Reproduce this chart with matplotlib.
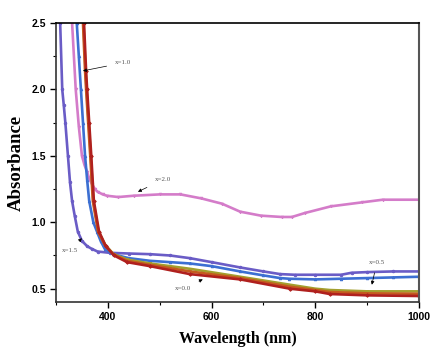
import matplotlib.pyplot as plt
from matplotlib.ticker import MultipleLocator

# Absorbance spectra, one series per composition
wl_x20 = [331, 338, 344, 350, 355, 360, 364, 369, 375, 380, 390, 398, 420, 450, 500, 540,
          580, 620, 655, 695, 735, 755, 780, 830, 890, 930, 1000]
ab_x20 = [2.5, 2.0, 1.72, 1.5, 1.43, 1.38, 1.33, 1.29, 1.25, 1.23, 1.21, 1.20, 1.19, 1.20,
          1.21, 1.21, 1.18, 1.14, 1.08, 1.05, 1.04, 1.04, 1.07, 1.12, 1.15, 1.17, 1.17]

wl_x15 = [308, 312, 315, 318, 323, 327, 331, 336, 342, 350, 360, 369, 380, 404, 440, 481,
          520, 558, 600, 655, 700, 732, 760, 800, 850, 870, 900, 950, 1000]
ab_x15 = [2.5, 2.0, 1.88, 1.75, 1.5, 1.3, 1.16, 1.05, 0.93, 0.86, 0.82, 0.80, 0.78, 0.77,
          0.765, 0.76, 0.75, 0.73, 0.70, 0.66, 0.63, 0.61, 0.605, 0.605, 0.605, 0.62, 0.625,
          0.63, 0.63]

wl_blue = [340, 344, 348, 352, 356, 360, 364, 372, 379, 386, 394, 410, 440, 481, 520, 558,
           600, 655, 700, 732, 750, 800, 850, 900, 950, 1000]
ab_blue = [2.5, 2.25, 2.0, 1.75, 1.5, 1.32, 1.16, 1.0, 0.93, 0.86, 0.80, 0.76, 0.73, 0.71,
           0.70, 0.69, 0.67, 0.63, 0.60, 0.58, 0.575, 0.57, 0.575, 0.58, 0.585, 0.59]

wl_x05 = [353, 357, 359, 363, 367, 372, 382, 395, 411, 437, 481, 558, 655, 751, 800, 828,
          900, 1000]
ab_x05 = [2.5, 2.14, 2.0, 1.75, 1.5, 1.16, 0.93, 0.83, 0.76, 0.72, 0.69, 0.65, 0.59, 0.53,
          0.50, 0.49, 0.48, 0.48]

wl_x10 = [352, 356, 358, 362, 366, 371, 381, 394, 410, 437, 481, 558, 655, 751, 800, 828,
          900, 1000]
ab_x10 = [2.5, 2.14, 2.0, 1.75, 1.5, 1.16, 0.93, 0.83, 0.76, 0.71, 0.68, 0.63, 0.58, 0.515,
          0.49, 0.475, 0.465, 0.462]

wl_x00 = [354, 358, 360, 364, 368, 373, 383, 396, 412, 437, 481, 558, 655, 751, 800, 828,
          900, 1000]
ab_x00 = [2.5, 2.14, 2.0, 1.75, 1.5, 1.16, 0.93, 0.82, 0.75, 0.70, 0.67, 0.61, 0.57, 0.50,
          0.48, 0.46, 0.45, 0.445]

series = [
    (wl_x20, ab_x20, '#d47cc9', 'v'),
    (wl_x15, ab_x15, '#6a5cc6', 'o'),
    (wl_blue, ab_blue, '#3c6fd2', '^'),
    (wl_x05, ab_x05, '#a39f2e', 's'),
    (wl_x10, ab_x10, '#c45a1e', '+'),
    (wl_x00, ab_x00, '#b0201e', 'D'),
]

# label text position, arrow tip
labels = [
    ('x=1.0', (429, 2.20), (352, 2.14)),
    ('x=2.0', (506, 1.32), (458, 1.23)),
    ('x=1.5', (327, 0.79), (350, 0.88)),
    ('x=0.0', (545, 0.50), (583, 0.57)),
    ('x=0.5', (919, 0.70), (909, 0.53)),
]

fig = plt.figure(figsize=(4.46, 3.49), dpi=100)
ax = fig.add_axes([0.1256, 0.1347, 0.8139, 0.7993])

for wl, ab, col, mk in series:
    ax.plot(wl, ab, color=col, lw=1.9, marker=mk, ms=1.8, mew=0.7, solid_capstyle='butt')

for txt, xy_text, xy_tip in labels:
    ax.annotate(txt, xy=xy_tip, xytext=xy_text, fontsize=5, color='#555555',
                family='Liberation Serif', ha='center', va='center',
                arrowprops=dict(arrowstyle='-|>', color='black', lw=0.5,
                                mutation_scale=5, shrinkA=4, shrinkB=0))

ax.set_xlim(300, 1000)
ax.set_ylim(0.4, 2.5)
ax.xaxis.set_major_locator(MultipleLocator(200))
ax.xaxis.set_minor_locator(MultipleLocator(100))
ax.yaxis.set_major_locator(MultipleLocator(0.5))
ax.yaxis.set_minor_locator(MultipleLocator(0.25))
ax.tick_params(which='major', direction='out', length=4, width=1, labelsize=7.5, pad=3)
ax.tick_params(which='minor', direction='out', length=2.5, width=0.8)
for lab in ax.get_xticklabels() + ax.get_yticklabels():
    lab.set_fontweight('bold')
    lab.set_family('Liberation Sans')

for side in ['left', 'bottom', 'top']:
    ax.spines[side].set_linewidth(1.2)
ax.spines['left'].set_color('#333333')
ax.spines['bottom'].set_color('#333333')
ax.spines['right'].set_linewidth(1.5)
ax.spines['right'].set_color('#555555')

ax.set_xlabel('Wavelength (nm)', family='Liberation Serif', fontweight='bold', fontsize=11.5,
              labelpad=7)
ax.set_ylabel('Absorbance', family='Liberation Serif', fontweight='bold', fontsize=13.5,
              labelpad=5)

fig.savefig('out.png', dpi=100)
